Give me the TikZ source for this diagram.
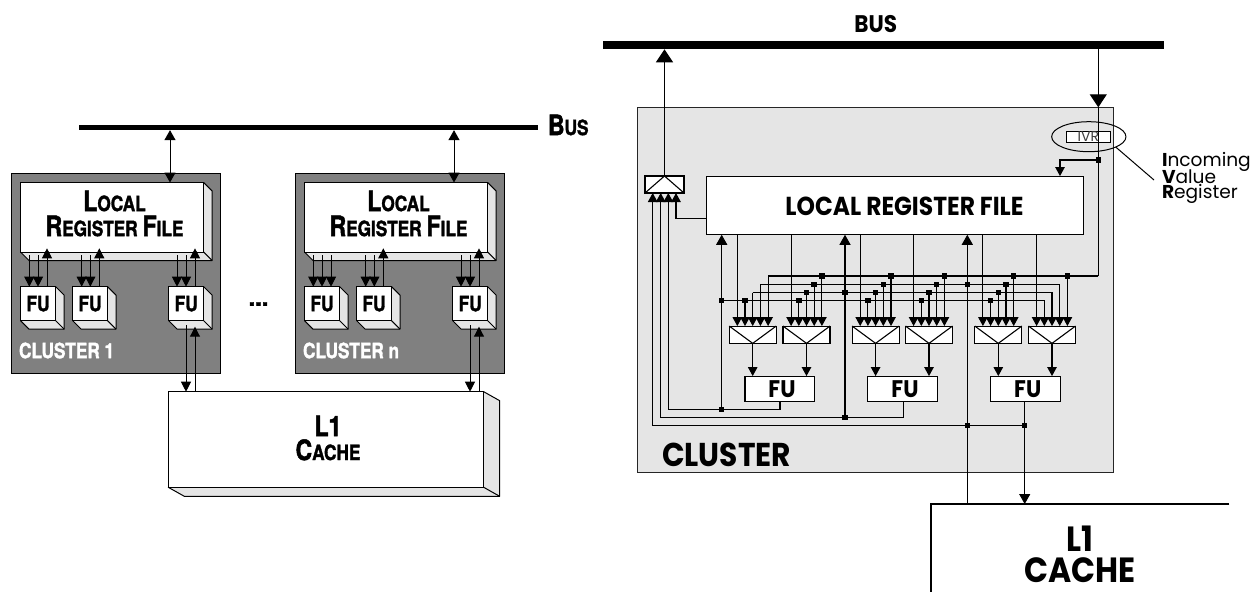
\documentclass[tikz,border=0pt]{standalone}
\usepackage{fontspec}
\usepackage{graphicx}
\usetikzlibrary{arrows.meta,calc,shapes.geometric}
\setmainfont{TeX Gyre Heros}[BoldFeatures={FakeBold=1.8}]
\newfontfamily\geof{Poppins}
\newcommand{\fsz}[1]{\fontsize{#1}{#1}\selectfont}
\newcommand{\nb}[1]{\scalebox{0.82}[1]{\bfseries #1}}
\newcommand{\gb}[1]{\scalebox{0.9}[1]{\geof\bfseries #1}}
\newcommand{\smc}[2]{{\fsz{28}#1}{\fsz{21}#2}}
\definecolor{pale}{HTML}{E5E5E5}
\definecolor{midg}{HTML}{808080}
\tikzset{
  every node/.style={outer sep=0pt,inner sep=0pt},
  ln/.style={draw=black,line width=1.1pt},
  whitebox/.style={draw=black,fill=white,line width=1.1pt},
  bigtip/.style={-{Triangle[width=11pt,length=10pt]}},
  smalltip/.style={-{Triangle[width=9.5pt,length=9pt]}},
  hugetip/.style={-{Triangle[width=17pt,length=13pt]}},
  lefttip/.style={-{Triangle[width=10pt,length=10pt]}},
  leftbi/.style={{Triangle[width=11pt,length=10pt]}-{Triangle[width=11pt,length=10pt]}},
  dot/.style={rectangle,fill=black,minimum size=5.5pt},
  muxbox/.style={whitebox,minimum width=47pt,minimum height=17.3pt},
  narlab/.style={font=\bfseries\fsz{25},align=center},
  geolab/.style={align=center},
}
% name, x1,y1,x2,y2, dx,dy, text
\newcommand{\cube}[8]{%
  \pgfmathsetmacro{\cxx}{(#2+#4)/2}\pgfmathsetmacro{\cyy}{(#3+#5)/2}%
  \pgfmathsetmacro{\www}{#4-#2}\pgfmathsetmacro{\hhh}{#5-#3}%
  \filldraw[fill=pale,draw=black,line width=1pt,line join=round] (#4,#3) -- ($(#4,#3)+(#6,#7)$) -- ($(#4,#5)+(#6,#7)$) -- ($(#2,#5)+(#6,#7)$) -- (#2,#5) -- cycle;
  \draw[line width=1pt] (#4,#5) -- ($(#4,#5)+(#6,#7)$);
  \node[whitebox,line width=1pt,minimum width=\www pt,minimum height=\hhh pt] (#1) at (\cxx,\cyy) {#8};
}
% prefix, offset, label
\newcommand{\leftcluster}[3]{%
  \begin{scope}[xshift=#2pt]
  \node[draw=black,fill=midg,line width=1pt,minimum width=208.8pt,minimum height=200.5pt] (#1box) at (116.2,273.7) {};
  \cube{#1lrf}{20.5}{182.5}{203.7}{252}{8.5}{8.5}{}
  \node[narlab] (#1lrft) at (114.5,213.5) {\nb{\smc{L}{OCAL}}\\\nb{\smc{R}{EGISTER}\hspace{6pt}\smc{F}{ILE}}};
  \cube{#1fa}{20.5}{286.7}{55.7}{320.7}{8.5}{8.5}{\fsz{21}\nb{FU}}
  \cube{#1fb}{72.7}{286.7}{107.5}{320.7}{8.5}{8.5}{\fsz{21}\nb{FU}}
  \cube{#1fc}{168.7}{286.7}{203.7}{320.7}{8.5}{8.5}{\fsz{21}\nb{FU}}
  \node[anchor=west,text=white,font=\fsz{21}] (#1lab) at (19,350.5) {\nb{#3}};
  \coordinate (#1up) at (170,0);
  \coordinate (#1a1) at (29.3,0); \coordinate (#1a2) at (38,0); \coordinate (#1a3) at (47,0);
  \coordinate (#1b1) at (81.7,0); \coordinate (#1b2) at (90.3,0); \coordinate (#1b3) at (99.3,0);
  \coordinate (#1c1) at (177,0); \coordinate (#1c2) at (186,0); \coordinate (#1c3) at (195,0);
  \draw[ln,line width=1pt,leftbi] (lbus.south -| #1up) -- (#1lrf.north -| #1up);
  \foreach \g/\n in {a1/a,a2/a,b1/b,b2/b,c1/c,c2/c}
    \draw[ln,line width=1pt,lefttip,shorten <=3pt] (#1lrf.south -| #1\g) -- (#1f\n.north -| #1\g);
  \foreach \g/\n in {b3/b,c3/c}
    \draw[ln,line width=1pt,lefttip,shorten >=-3.7pt] (#1f\n.north -| #1\g) -- (#1lrf.south -| #1\g);
  \draw[ln,line width=1pt,lefttip,shorten <=4.5pt] (#1fc.south -| #1c2) -- (lcache.north -| #1c2);
  \draw[ln,line width=1pt,lefttip,shorten >=6pt] (lcache.north -| #1c3) -- (#1fc.south -| #1c3);
  \end{scope}
}
\begin{document}
\begin{tikzpicture}[x=1pt,y=-1pt]
\useasboundingbox (0,0) rectangle (1258,592);
% ---------- left diagram
\node[fill=black,minimum width=459pt,minimum height=5.3pt] (lbus) at (308.5,127.5) {};
\node[narlab,anchor=west] (lbust) at (548,125) {\nb{\smc{B}{US}}};
\cube{lcache}{168.3}{391.7}{483.7}{487.3}{16}{9}{}
\node[narlab,font=\bfseries\fsz{24}] (lcachet) at (328,438) {\nb{\fsz{28}L1}\\\nb{\smc{C}{ACHE}}};
\leftcluster{p}{0}{CLUSTER 1}
\leftcluster{q}{284}{CLUSTER n}
\draw[ln,line width=1pt,lefttip,shorten <=3pt] (qlrf.south -| qa3) -- (qfa.north -| qa3);
\draw[ln,line width=1pt,lefttip,shorten >=-3.7pt] (pfa.north -| pa3) -- (plrf.south -| pa3);
\node[font=\bfseries\fsz{24}] (ldots) at (258.5,304) {...};
% ---------- right diagram
\node[draw=black!85,fill=pale,line width=1.2pt,minimum width=475.6pt,minimum height=365.4pt] (rcl) at (875.5,290) {};
\node[fill=black,minimum width=561pt,minimum height=8pt] (rbus) at (883.5,45.3) {};
\node[geolab,font=\fsz{24}] (rbust) at (875.7,24) {\gb{BUS}};
\node[whitebox,minimum width=376.5pt,minimum height=58.7pt] (lrf) at (894.8,205.4) {};
\node[geolab,font=\fsz{26}] (lrft) at (904.5,206) {\gb{LOCAL REGISTER FILE}};
\node[whitebox,minimum width=39pt,minimum height=17pt] (m0) at (664.5,184.5) {};
\draw[ln] (m0.south west) -- (m0.north) -- (m0.south east);
\foreach \i/\c in {1/752.7,2/806.5,3/875.6,4/929,5/998.3,6/1052}{
  \node[muxbox] (m\i) at (\c,334.7) {};
  \draw[ln] (m\i.north west) -- (m\i.south) -- (m\i.north east);
  \coordinate (i\i a) at ($(m\i.north)+(-15.4,0)$);
  \coordinate (i\i b) at ($(m\i.north)+(-7.7,0)$);
  \coordinate (i\i c) at (m\i.north);
  \coordinate (i\i d) at ($(m\i.north)+(7.7,0)$);
  \coordinate (i\i e) at ($(m\i.north)+(15.4,0)$);
}
\node[whitebox,minimum width=69.4pt,minimum height=25.7pt] (fu1) at (779.7,388.9) {};
\node[whitebox,minimum width=69.6pt,minimum height=25.7pt] (fu2) at (902.5,388.9) {};
\node[whitebox,minimum width=69.7pt,minimum height=25.7pt] (fu3) at (1025.2,388.9) {};
\node[geolab,font=\fsz{24}] (fu1t) at (782,389) {\gb{FU}};
\node[geolab,font=\fsz{24}] (fu2t) at (905,389) {\gb{FU}};
\node[geolab,font=\fsz{24}] (fu3t) at (1027.7,389) {\gb{FU}};
\node[geolab,anchor=west,font=\fsz{33}] (clt) at (662,455) {\gb{CLUSTER}};
% bus levels
\coordinate (b1) at (0,276); \coordinate (b2) at (0,284.3);
\coordinate (b3) at (0,292.7); \coordinate (b4) at (0,300.7);
% IVR
\node[whitebox,line width=1pt,minimum width=44pt,minimum height=11.3pt] (ivr) at (1088.7,136.7) {};
\node[font=\geof\fsz{14},text=black!75] (ivrt) at (1088.3,136.7) {IVR};
\node[draw=black,ellipse,line width=1pt,minimum width=74.3pt,minimum height=30pt] (ivre) at (1088.8,136.7) {};
\coordinate (cal) at (1154,180);
\draw[ln,line width=1pt] (ivre.-21) -- (cal);
\node[font=\geof\fsz{18.6},align=left,anchor=west] (ivrl) at (1162,178) {{\bfseries I}ncoming\\[-3.5pt]{\bfseries V}alue\\[-3.5pt]{\bfseries R}egister};
% input columns from the register file
\foreach \i in {1,...,6}{
  \draw[ln,smalltip] (lrf.south -| i\i a) -- (i\i a);
}
% junction dots on buses
\foreach \i in {2,3,4,5}{
  \node[dot] (d\i b) at (i\i b |- b4) {};
  \node[dot] (d\i c) at (i\i c |- b3) {};
  \node[dot] (d\i d) at (i\i d |- b2) {};
  \node[dot] (d\i e) at (i\i e |- b1) {};
  \draw[ln,smalltip] (d\i b.center) -- (i\i b);
  \draw[ln,smalltip] (d\i c.center) -- (i\i c);
  \draw[ln,smalltip] (d\i d.center) -- (i\i d);
  \draw[ln,smalltip] (d\i e.center) -- (i\i e);
}
\node[dot] (d1b) at (i1b |- b4) {};
\node[dot] (d6e) at (i6e |- b1) {};
\draw[ln,smalltip] (d1b.center) -- (i1b);
\draw[ln,smalltip] (d6e.center) -- (i6e);
% vertical feedback nodes
\coordinate (x1) at (721.7,0); \coordinate (x2) at (845,0); \coordinate (x3) at (967.3,0);
\node[dot] (jb1) at (x1 |- b4) {};
\node[dot] (jb2) at (x2 |- b3) {};
\node[dot] (jb3) at (x3 |- b2) {};
\node[dot] (jr1) at (721.7,409.3) {};
\node[dot] (jr2) at (845,417.6) {};
\node[dot] (jr3) at (967.3,425.7) {};
\node[dot] (jr4) at (1024.7,425.7) {};
\node[dot] (jv) at (1098.3,160) {};
% bus rails
\draw[ln,smalltip] (jb1.center) -- (i6b |- b4) -- (i6b);
\draw[ln,smalltip] (i1c |- b3) -- (i6c |- b3) -- (i6c);
\draw[ln,smalltip] (i1c |- b3) -- (i1c);
\draw[ln,smalltip] (i6d |- b2) -- (i1d |- b2) -- (i1d);
\draw[ln,smalltip] (i6d |- b2) -- (i6d);
\draw[ln,smalltip] (jv |- b1) -- (i1e |- b1) -- (i1e);
% IVR feed
\draw[ln,hugetip] (rbus.south -| jv) -- (rcl.north -| jv);
\draw[ln] (rcl.north -| jv) -- (jv.center) -- (jv |- b1);
\draw[ln,smalltip] (jv.center) -- (jv -| 1060,0) -- (lrf.north -| 1060,0);
% mux outputs
\foreach \i/\f in {1/1,2/1,3/2,4/2,5/3,6/3}
  \draw[ln,smalltip] (m\i.south) -- (fu\f.north -| m\i.south);
% top multiplexer
\draw[ln,hugetip] (m0.north) -- (rbus.south -| m0.north);
\coordinate (t1) at (652.7,193); \coordinate (t2) at (660.7,193);
\coordinate (t3) at (668.3,193); \coordinate (t4) at (676,193);
\draw[ln,smalltip] (lrf.west |- 0,218.3) -| (t4);
\draw[ln,smalltip] (fu1.south -| 780,0) |- (jr1.center) -| (t3);
\draw[ln,smalltip] (fu2.south -| 903.3,0) |- (jr2.center) -| (t2);
\draw[ln,smalltip] (fu3.south -| jr4) -- (jr4.center) -- (jr3.center) -| (t1);
% up arrows into register file
\draw[ln,bigtip] (jr1.center) -- (lrf.south -| jr1);
\draw[ln,bigtip] (jr2.center) -- (lrf.south -| jr2);
\draw[ln,bigtip] (jr3.center) -- (lrf.south -| jr3);
% cache
\coordinate (ca) at (931,504); \coordinate (cb) at (1229.3,504); \coordinate (cc) at (931,592);
\draw[ln,line width=1.2pt] (cb) -- (ca) -- (cc);
\draw[ln] (jr3.center) -- (jr3 |- ca);
\draw[ln,bigtip] (jr4.center) -- (jr4 |- ca);
\node[geolab,font=\fsz{35}] (rcachet) at (1080,554) {\gb{L1}\\[-4pt]\gb{CACHE}};
\end{tikzpicture}
\end{document}
